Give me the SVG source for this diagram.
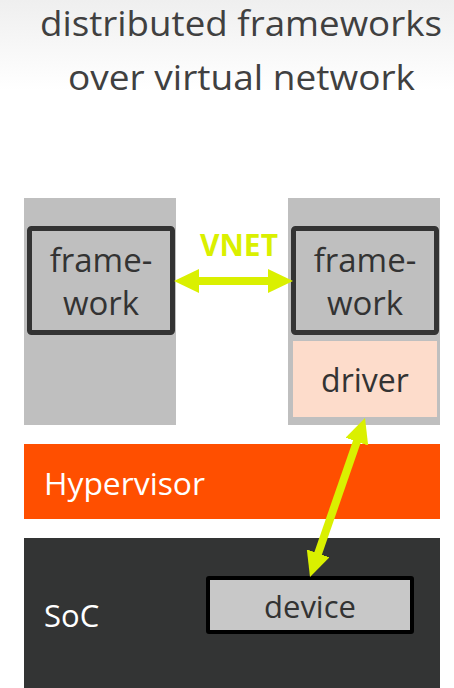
<svg xmlns="http://www.w3.org/2000/svg" width="454" height="688" viewBox="0 0 454 688">
<style>
.t{font-family:"Open Sans","Noto Sans","Liberation Sans",sans-serif;}
.title{font-size:35px;fill:#404040;text-anchor:middle;}
.lbl{font-size:33px;fill:#333333;text-anchor:middle;}
.wh{font-size:31px;fill:#ffffff;}
.vm{fill:#BFBFBF;}
.fw{fill:#BFBFBF;stroke:#333333;stroke-width:5;}
.arrow{stroke:#DAF000;stroke-width:8;fill:none;marker-start:url(#ah);marker-end:url(#ah);}
</style>
<defs>
<linearGradient id="bg" x1="0" y1="0" x2="0" y2="1">
<stop offset="0" stop-color="#efefef"/>
<stop offset="1" stop-color="#ffffff"/>
</linearGradient>
<marker id="ah" markerUnits="userSpaceOnUse" markerWidth="25" markerHeight="24" refX="10" refY="12" orient="auto-start-reverse" viewBox="0 0 25 24">
<path d="M0,0 L25,12 L0,24 z" fill="#DAF000"/>
</marker>
</defs>
<rect x="0" y="0" width="454" height="688" fill="#ffffff"/>
<rect x="0" y="0" width="454" height="90" fill="url(#bg)"/>
<g id="title">
<text class="t title" x="241" y="36" textLength="402" lengthAdjust="spacingAndGlyphs">distributed frameworks</text>
<text class="t title" x="241.5" y="90" textLength="347" lengthAdjust="spacingAndGlyphs">over virtual network</text>
</g>
<g id="vm-left">
<rect class="vm" x="24" y="198" width="152" height="227"/>
</g>
<g id="vm-right">
<rect class="vm" x="288" y="198" width="152" height="227"/>
</g>
<g id="framework-left">
<rect class="fw" x="29.5" y="228.5" width="143" height="104" rx="2"/>
<text class="t lbl" x="101" y="272">frame-</text>
<text class="t lbl" x="101" y="315">work</text>
</g>
<g id="framework-right">
<rect class="fw" x="293.5" y="228.5" width="143" height="104" rx="2"/>
<text class="t lbl" x="365" y="272">frame-</text>
<text class="t lbl" x="365" y="315">work</text>
</g>
<g id="driver">
<rect x="293" y="341" width="144" height="76" fill="#FDDCCB"/>
<text class="t lbl" x="365" y="392" style="font-size:32px">driver</text>
</g>
<g id="hypervisor">
<rect x="24" y="444" width="416" height="75" fill="#FF4F00"/>
<text class="t wh" x="44" y="495" textLength="161" lengthAdjust="spacingAndGlyphs">Hypervisor</text>
</g>
<g id="soc">
<rect x="24" y="538" width="416" height="150" fill="#333434"/>
<text class="t wh" x="44" y="627">SoC</text>
</g>
<g id="device">
<rect x="208" y="578" width="204" height="54" fill="#C8C8C8" stroke="#000000" stroke-width="4" rx="1"/>
<text class="t lbl" x="310" y="618" style="font-size:31px">device</text>
</g>
<g id="connectors">
<line class="arrow" x1="189" y1="281" x2="278" y2="281"/>
<text class="t" x="239" y="256" text-anchor="middle" font-size="30" font-weight="bold" fill="#DAF000">VNET</text>
<line class="arrow" x1="360.1" y1="432.2" x2="314.9" y2="562.8"/>
</g>
</svg>
